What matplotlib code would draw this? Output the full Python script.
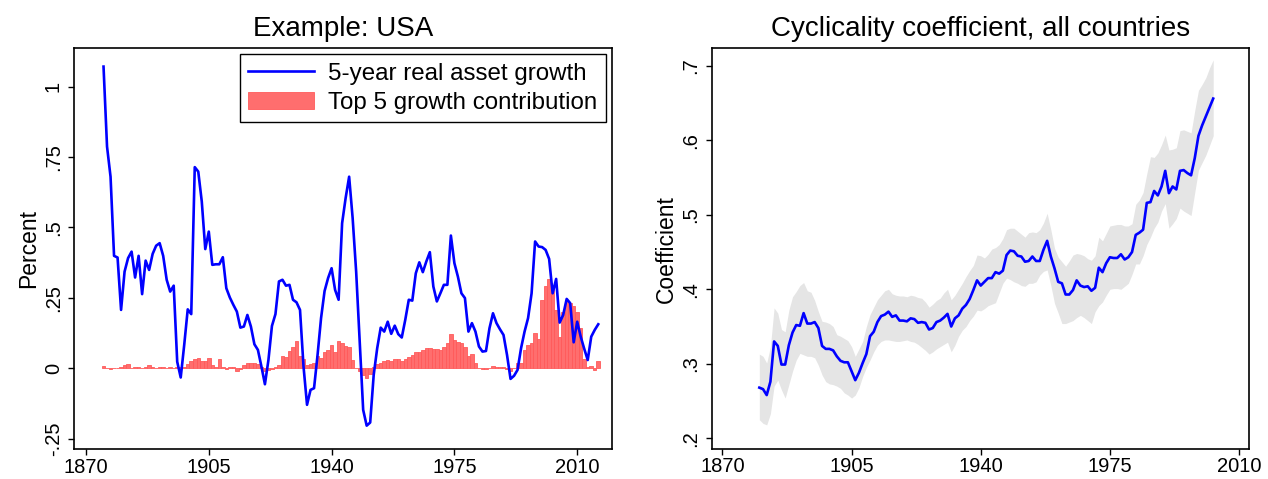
import matplotlib.pyplot as plt
import numpy as np

plt.rcParams['font.family'] = ['Liberation Sans', 'DejaVu Sans']

# ---- left panel: USA ----
usa_years = list(range(1875, 2017))
asset_growth = [
    1.071, 0.787, 0.680, 0.399, 0.393, 0.207, 0.343, 0.391, 0.414, 0.322,
    0.399, 0.263, 0.382, 0.349, 0.406, 0.435, 0.444, 0.399, 0.314, 0.272,
    0.293, 0.023, -0.033, 0.083, 0.209, 0.192, 0.714, 0.698, 0.592, 0.423,
    0.485, 0.367, 0.369, 0.369, 0.394, 0.284, 0.251, 0.225, 0.201, 0.144,
    0.148, 0.189, 0.148, 0.085, 0.065, 0.006, -0.057, 0.029, 0.150, 0.192,
    0.308, 0.314, 0.293, 0.296, 0.243, 0.234, 0.207, 0.006, -0.130, -0.077,
    -0.071, 0.047, 0.178, 0.274, 0.320, 0.355, 0.278, 0.243, 0.515, 0.604,
    0.680, 0.533, 0.343, 0.094, -0.148, -0.204, -0.193, -0.024, 0.071, 0.144,
    0.130, 0.165, 0.122, 0.151, 0.121, 0.109, 0.172, 0.243, 0.240, 0.337,
    0.376, 0.341, 0.379, 0.412, 0.290, 0.237, 0.266, 0.296, 0.296, 0.471,
    0.373, 0.325, 0.266, 0.249, 0.130, 0.160, 0.130, 0.077, 0.059, 0.061,
    0.142, 0.195, 0.160, 0.138, 0.118, 0.047, -0.038, -0.027, -0.006, 0.071,
    0.130, 0.178, 0.266, 0.450, 0.432, 0.430, 0.420, 0.388, 0.266, 0.317,
    0.162, 0.189, 0.246, 0.231, 0.092, 0.165, 0.112, 0.069, 0.029, 0.112,
    0.136, 0.156,
]
top5_contrib = [
    0.008, 0.002, -0.004, 0.000, 0.002, 0.006, 0.010, 0.014, 0.000, 0.004,
    0.006, 0.000, 0.004, 0.010, 0.004, 0.002, 0.006, 0.004, 0.000, 0.004,
    0.002, 0.004, 0.004, 0.006, 0.014, 0.024, 0.033, 0.036, 0.026, 0.026,
    0.036, 0.010, 0.004, 0.032, 0.004, -0.002, 0.004, 0.006, -0.009, -0.002,
    0.012, 0.018, 0.018, 0.018, 0.014, 0.006, -0.009, -0.006, -0.002, 0.006,
    0.012, 0.044, 0.038, 0.062, 0.077, 0.097, 0.044, 0.033, 0.012, 0.014,
    0.018, 0.044, 0.036, 0.056, 0.065, 0.083, 0.059, 0.095, 0.089, 0.080,
    0.077, 0.030, 0.000, -0.010, -0.024, -0.036, -0.020, 0.006, 0.014, 0.018,
    0.024, 0.030, 0.025, 0.032, 0.032, 0.024, 0.032, 0.041, 0.047, 0.056,
    0.059, 0.065, 0.071, 0.071, 0.068, 0.068, 0.065, 0.075, 0.090, 0.121,
    0.100, 0.092, 0.089, 0.077, 0.045, 0.050, 0.020, 0.002, -0.003, -0.003,
    0.000, 0.008, 0.004, 0.004, 0.004, -0.003, -0.010, 0.000, 0.018, 0.020,
    0.065, 0.083, 0.089, 0.124, 0.104, 0.243, 0.292, 0.317, 0.284, 0.207,
    0.112, 0.198, 0.243, 0.231, 0.222, 0.198, 0.142, 0.033, 0.004, 0.008,
    -0.006, 0.026,
]

# ---- right panel: all countries ----
coef_years = list(range(1880, 2004))
coef = [
    0.268, 0.266, 0.258, 0.276, 0.330, 0.324, 0.299, 0.299, 0.325, 0.342,
    0.352, 0.351, 0.368, 0.354, 0.354, 0.356, 0.348, 0.324, 0.320, 0.320,
    0.318, 0.310, 0.304, 0.302, 0.302, 0.290, 0.278, 0.288, 0.301, 0.313,
    0.337, 0.343, 0.356, 0.364, 0.366, 0.370, 0.363, 0.365, 0.358, 0.358,
    0.357, 0.361, 0.360, 0.355, 0.356, 0.355, 0.346, 0.348, 0.356, 0.358,
    0.362, 0.367, 0.350, 0.361, 0.365, 0.374, 0.379, 0.387, 0.399, 0.412,
    0.405, 0.410, 0.415, 0.415, 0.423, 0.421, 0.425, 0.446, 0.452, 0.451,
    0.445, 0.444, 0.437, 0.438, 0.444, 0.438, 0.438, 0.453, 0.465, 0.444,
    0.428, 0.410, 0.408, 0.393, 0.393, 0.399, 0.412, 0.405, 0.403, 0.404,
    0.398, 0.402, 0.429, 0.423, 0.435, 0.443, 0.442, 0.442, 0.447, 0.440,
    0.443, 0.450, 0.473, 0.476, 0.480, 0.516, 0.517, 0.532, 0.526, 0.538,
    0.559, 0.529, 0.538, 0.534, 0.559, 0.560, 0.556, 0.553, 0.576, 0.606,
    0.620, 0.632, 0.644, 0.656,
]
coef_hi = [
    0.313, 0.310, 0.301, 0.323, 0.375, 0.368, 0.346, 0.343, 0.372, 0.390,
    0.397, 0.405, 0.409, 0.398, 0.396, 0.385, 0.370, 0.357, 0.356, 0.354,
    0.350, 0.339, 0.337, 0.334, 0.331, 0.323, 0.310, 0.320, 0.330, 0.350,
    0.366, 0.376, 0.386, 0.392, 0.398, 0.400, 0.394, 0.392, 0.391, 0.391,
    0.390, 0.392, 0.391, 0.389, 0.388, 0.383, 0.376, 0.380, 0.385, 0.388,
    0.395, 0.400, 0.386, 0.392, 0.400, 0.408, 0.417, 0.425, 0.432, 0.446,
    0.445, 0.442, 0.447, 0.454, 0.456, 0.460, 0.468, 0.480, 0.482, 0.482,
    0.478, 0.474, 0.470, 0.476, 0.477, 0.476, 0.480, 0.489, 0.502, 0.480,
    0.455, 0.443, 0.437, 0.431, 0.438, 0.446, 0.448, 0.447, 0.445, 0.441,
    0.439, 0.445, 0.470, 0.465, 0.475, 0.485, 0.486, 0.487, 0.487, 0.485,
    0.485, 0.488, 0.514, 0.520, 0.530, 0.555, 0.578, 0.577, 0.583, 0.594,
    0.607, 0.587, 0.588, 0.590, 0.613, 0.614, 0.612, 0.610, 0.640, 0.667,
    0.675, 0.684, 0.697, 0.708,
]
coef_lo = [
    0.225, 0.220, 0.218, 0.233, 0.270, 0.278, 0.265, 0.254, 0.272, 0.290,
    0.305, 0.314, 0.312, 0.310, 0.310, 0.308, 0.298, 0.285, 0.276, 0.273,
    0.272, 0.270, 0.267, 0.261, 0.258, 0.254, 0.258, 0.268, 0.283, 0.295,
    0.305, 0.316, 0.325, 0.330, 0.332, 0.332, 0.331, 0.330, 0.330, 0.331,
    0.332, 0.330, 0.329, 0.326, 0.322, 0.318, 0.313, 0.316, 0.320, 0.323,
    0.326, 0.329, 0.316, 0.325, 0.337, 0.345, 0.350, 0.358, 0.364, 0.372,
    0.371, 0.374, 0.378, 0.380, 0.382, 0.395, 0.408, 0.415, 0.413, 0.410,
    0.408, 0.405, 0.404, 0.408, 0.408, 0.410, 0.419, 0.424, 0.426, 0.405,
    0.381, 0.368, 0.354, 0.354, 0.356, 0.358, 0.362, 0.365, 0.362, 0.358,
    0.354, 0.370, 0.378, 0.383, 0.392, 0.400, 0.401, 0.401, 0.400, 0.404,
    0.408, 0.420, 0.434, 0.434, 0.445, 0.460, 0.470, 0.482, 0.490, 0.505,
    0.515, 0.482, 0.488, 0.495, 0.509, 0.505, 0.502, 0.499, 0.530, 0.560,
    0.570, 0.580, 0.593, 0.606,
]

year_ticks = [1870, 1905, 1940, 1975, 2010]
left_yticks = [-0.25, 0, 0.25, 0.5, 0.75, 1]
left_ylabels = ['-.25', '0', '.25', '.5', '.75', '1']
right_yticks = [0.2, 0.3, 0.4, 0.5, 0.6, 0.7]
right_ylabels = ['.2', '.3', '.4', '.5', '.6', '.7']

fig = plt.figure(figsize=(12.68, 4.79), dpi=100)
ax1 = fig.add_axes([0.0584, 0.062, 0.4242, 0.8372])
ax2 = fig.add_axes([0.5613, 0.0626, 0.4240, 0.8366])

# left
ax1.bar(usa_years, top5_contrib, width=1.0, color='#ff6e6e', edgecolor='#ff5a5a',
        linewidth=0.6, label='Top 5 growth contribution', zorder=2)
ax1.plot(usa_years, asset_growth, color='#0000ff', linewidth=1.9,
         label='5-year real asset growth', zorder=3)
ax1.set_xlim(1866.6, 2019.9)
ax1.set_ylim(-0.288, 1.136)
ax1.set_yticks(left_yticks)
ax1.set_yticklabels(left_ylabels, rotation=90, va='center')
ax1.set_ylabel('Percent', fontsize=16.5, labelpad=3)
ax1.set_title('Example: USA', fontsize=20, pad=9)
leg = ax1.legend(loc='upper right', fontsize=17.4, frameon=True, fancybox=False,
                 edgecolor='black', framealpha=1, borderpad=0.35, handlelength=2.7,
                 labelspacing=0.3, handletextpad=0.6, borderaxespad=0.25)
leg.get_frame().set_linewidth(1.0)

# right
ax2.fill_between(coef_years, coef_lo, coef_hi, color='#e5e5e5', linewidth=0, zorder=1)
ax2.plot(coef_years, coef, color='#0000ff', linewidth=1.9, zorder=3)
ax2.set_xlim(1867.1, 2012.8)
ax2.set_ylim(0.1856, 0.7235)
ax2.set_yticks(right_yticks)
ax2.set_yticklabels(right_ylabels, rotation=90, va='center')
ax2.set_ylabel('Coefficient', fontsize=16.5, labelpad=3)
ax2.set_title('Cyclicality coefficient, all countries', fontsize=20, pad=9)

for ax in (ax1, ax2):
    ax.set_xticks(year_ticks)
    ax.tick_params(axis='both', labelsize=14.5, length=4.5, width=1.0, direction='out')
    ax.tick_params(axis='x', pad=1.5)
    for s in ax.spines.values():
        s.set_linewidth(1.2)

plt.savefig('out.png', dpi=100)
